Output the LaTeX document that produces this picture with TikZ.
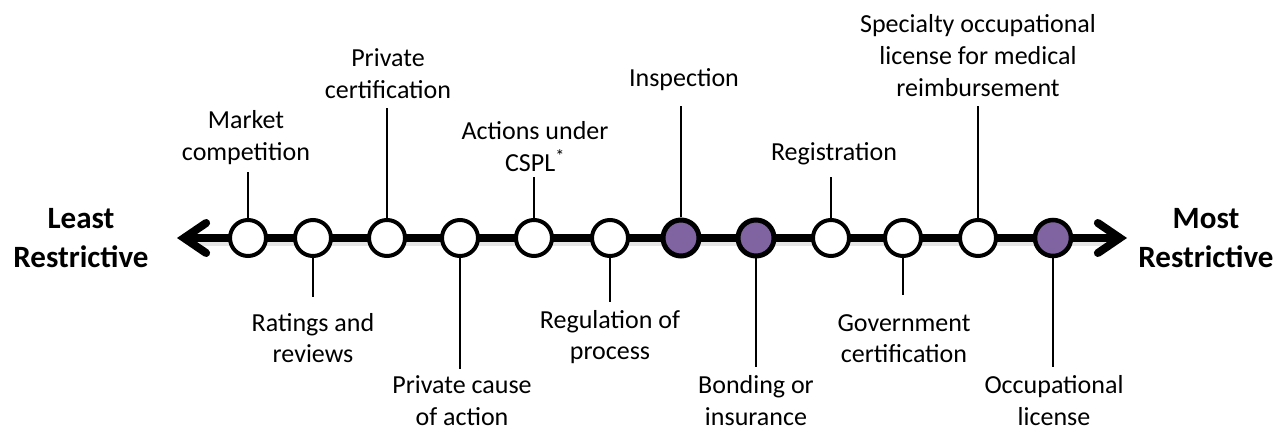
\documentclass[tikz,border=0pt]{standalone}
\usepackage{fontspec}
\setmainfont{Carlito}
\usetikzlibrary{arrows.meta}
\definecolor{purp}{HTML}{8064A2}
\begin{document}
\begin{tikzpicture}[x=1pt,y=-1pt,
  dot/.style={circle,draw=black,line width=4pt,fill=white,minimum size=36pt,inner sep=0pt},
  pdot/.style={dot,fill=purp,line width=5pt},
  lbl/.style={align=center,anchor=base,inner sep=0pt,font=\fontsize{26}{32}\selectfont},
  endlbl/.style={align=center,anchor=base,inner sep=0pt,font=\fontsize{31}{39}\selectfont\bfseries},
  tick/.style={line width=1.6pt}]
\useasboundingbox (0,0) rectangle (1286,430);
% shadow
\draw[line width=8pt,black!20,opacity=0.5] (200,242) -- (1105,242);
% main axis
\coordinate (aL) at (177,238);
\coordinate (aR) at (1127,238);
\draw[line width=8pt,{Straight Barb[length=22pt,width=30pt,line cap=round]}-{Straight Barb[length=22pt,width=30pt,line cap=round]}] (aL) -- (aR);
% dots
\node[dot]  (c1)  at (248,238) {};
\node[dot]  (c2)  at (313,238) {};
\node[dot]  (c3)  at (387,238) {};
\node[dot]  (c4)  at (460,238) {};
\node[dot]  (c5)  at (534,238) {};
\node[dot]  (c6)  at (610,238) {};
\node[pdot] (c7)  at (681,238) {};
\node[pdot] (c8)  at (756,238) {};
\node[dot]  (c9)  at (831,238) {};
\node[dot]  (c10) at (903,238) {};
\node[dot]  (c11) at (978,238) {};
\node[pdot,line width=4.5pt] (c12) at (1053,238) {};
% tick ends
\coordinate (t1)  at (248,172);
\coordinate (t2)  at (313,297);
\coordinate (t3)  at (387,108);
\coordinate (t4)  at (460,369);
\coordinate (t5)  at (534,177);
\coordinate (t6)  at (610,302);
\coordinate (t7)  at (681,106);
\coordinate (t8)  at (756,367);
\coordinate (t9)  at (831,177);
\coordinate (t10) at (903,295);
\coordinate (t11) at (978,106);
\coordinate (t12) at (1053,367);
\foreach \i in {1,3,5,7,9,11} \draw[tick] (c\i.north) -- (t\i);
\foreach \i in {2,4,6,8,10,12} \draw[tick] (c\i.south) -- (t\i);
% labels
\node[lbl] (l1)  at (246,161) {Market\\competition};
\node[lbl] (l2)  at (313,363) {Ratings and\\reviews};
\node[lbl] (l3)  at (388,99)  {Private\\certification};
\node[lbl] (l4)  at (462,425) {Private cause\\of action};
\node[lbl] (l5)  at (535,172) {Actions under\\CSPL\textsuperscript{*}};
\node[lbl] (l6)  at (610,360) {Regulation of\\process};
\node[lbl] (l7)  at (684,87)  {Inspection};
\node[lbl] (l8)  at (756,425) {Bonding or\\insurance};
\node[lbl] (l9)  at (834,161) {Registration};
\node[lbl] (l10) at (904,363) {Government\\certification};
\node[lbl] (l11) at (978,97)  {Specialty occupational\\license for medical\\reimbursement};
\node[lbl] (l12) at (1054,425) {Occupational\\license};
\node[endlbl] (left)  at (81,268)   {Least\\Restrictive};
\node[endlbl] (right) at (1206,268) {Most\\Restrictive};
\end{tikzpicture}
\end{document}
